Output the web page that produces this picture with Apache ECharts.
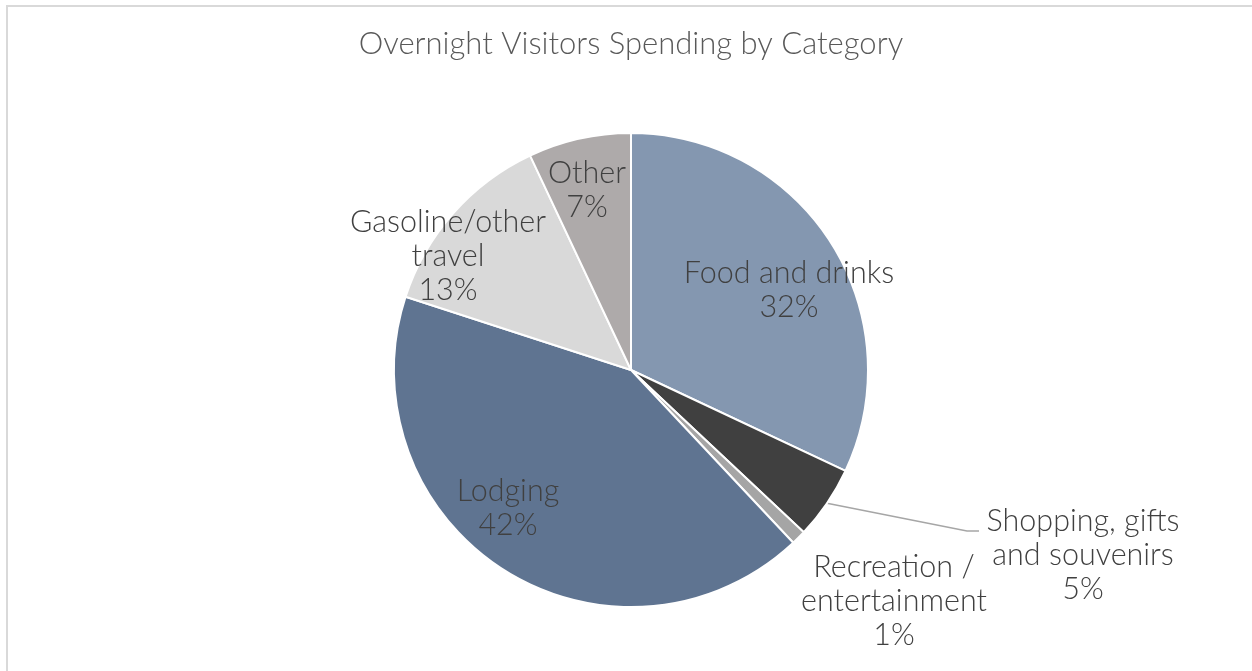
<!DOCTYPE html>
<html>
<head>
<meta charset="utf-8">
<title>Overnight Visitors Spending by Category</title>
<script src="https://cdn.jsdelivr.net/npm/echarts@6/dist/echarts.min.js"></script>
<style>
  html, body { margin: 0; padding: 0; background: #ffffff; overflow: hidden; }
  #chart { position: absolute; left: 0; top: 0; width: 1252px; height: 671px; }
  #frame {
    position: absolute; left: 6px; top: 5px; width: 1400px; height: 800px;
    border-top: 2px solid #d9d9d9; border-left: 2px solid #d9d9d9;
    pointer-events: none;
  }
</style>
</head>
<body>
<div id="chart"></div>
<div id="frame"></div>
<script>
// Spending categories (line breaks as shown in the slice labels)
const categories = [
  'Food and drinks',
  'Shopping, gifts\nand souvenirs',
  'Recreation /\nentertainment',
  'Lodging',
  'Gasoline/other\ntravel',
  'Other'
];
// Share of overnight visitor spending, percent
const shares = [32, 5, 1, 42, 13, 7];

const sliceColors = ['#8497b0', '#404040', '#a5a5a5', '#5f7491', '#d9d9d9', '#aeaaaa'];

// Pie geometry
const pieCenter = [631, 370];
const pieRadius = 237;

// Where each label block sits (centre of the text block), and leader-line bends
const labelSpots = [
  { x: 789, y: 290 },
  { x: 1083, y: 555, outside: true, leader: [[967, 531], [979, 531]] },
  { x: 894, y: 601, outside: true },
  { x: 508, y: 508 },
  { x: 448, y: 256 },
  { x: 587, y: 190 }
];

// Point on the outer edge at the middle of a slice (clockwise from 12 o'clock)
function sliceEdgePoint(index) {
  const total = shares.reduce((a, b) => a + b, 0);
  let before = 0;
  for (let i = 0; i < index; i++) before += shares[i];
  const theta = ((before + shares[index] / 2) / total) * Math.PI * 2;
  return [pieCenter[0] + pieRadius * Math.sin(theta), pieCenter[1] - pieRadius * Math.cos(theta)];
}

const labelFont = {
  fontFamily: 'Lato, "Open Sans", sans-serif',
  fontSize: 30.5,
  fontWeight: 300,
  color: '#404040',
  lineHeight: 34
};

const chart = echarts.init(document.getElementById('chart'), null, { renderer: 'canvas' });

chart.setOption({
  animation: false,
  backgroundColor: 'transparent',
  title: {
    text: 'Overnight Visitors Spending by Category',
    left: 631,
    top: 27,
    textAlign: 'center',
    padding: 0,
    textStyle: {
      fontFamily: 'Lato, "Open Sans", sans-serif',
      fontSize: 31,
      fontWeight: 300,
      color: '#595959',
      lineHeight: 34
    }
  },
  series: [{
    type: 'pie',
    center: pieCenter,
    radius: pieRadius,
    startAngle: 90,
    clockwise: true,
    avoidLabelOverlap: false,
    emphasis: { disabled: true },
    itemStyle: { borderColor: '#ffffff', borderWidth: 2 },
    label: Object.assign({
      show: true,
      formatter: p => p.name + '\n' + p.value + '%'
    }, labelFont),
    data: categories.map((name, i) => ({
      name: name,
      value: shares[i],
      itemStyle: { color: sliceColors[i] },
      label: { position: labelSpots[i].outside ? 'outside' : 'inside' },
      labelLine: {
        show: !!labelSpots[i].leader,
        lineStyle: { color: '#a6a6a6', width: 1.5 }
      }
    })),
    labelLayout: function (params) {
      const spot = labelSpots[params.dataIndex];
      const out = { x: spot.x, y: spot.y, align: 'center', verticalAlign: 'middle' };
      if (spot.leader) {
        out.labelLinePoints = [sliceEdgePoint(params.dataIndex), spot.leader[0], spot.leader[1]];
      }
      return out;
    }
  }]
});
</script>
</body>
</html>
